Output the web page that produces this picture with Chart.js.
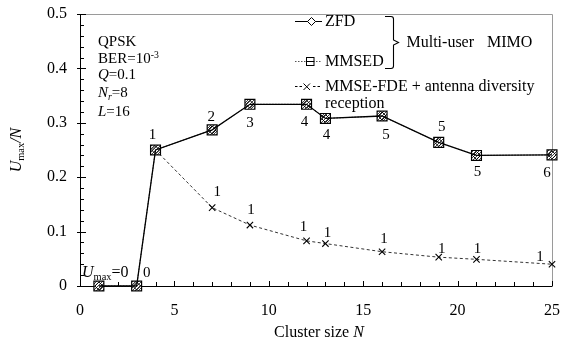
<!DOCTYPE html>
<html><head><meta charset="utf-8">
<script src="https://cdn.jsdelivr.net/npm/chart.js@4.4.0/dist/chart.umd.min.js"></script>
<style>html,body{margin:0;padding:0;background:#fff}#wrap{width:561px;height:344px}</style>
</head><body><div id="wrap"><canvas id="c" width="561" height="344"></canvas></div>
<script>
// ---- data ----
const clusterSizes = [1, 3, 4, 7, 9, 12, 13, 16, 19, 21, 25];
const zfdValues    = [0, 0, 0.250, 0.287, 0.334, 0.334, 0.308, 0.3125, 0.264, 0.240, 0.241];
const mmsedValues  = [0, 0, 0.250, 0.287, 0.334, 0.334, 0.308, 0.3125, 0.264, 0.240, 0.241];
const fdeSizes     = [4, 7, 9, 12, 13, 16, 19, 21, 25];
const fdeValues    = [0.250, 0.144, 0.112, 0.083, 0.078, 0.063, 0.053, 0.049, 0.040];
const zfdUsers     = ['', '0', '1', '2', '3', '4', '4', '5', '5', '5', '6'];
const fdeUsers     = ['', '1', '1', '1', '1', '1', '1', '1', '1'];
const xTickValues  = [0, 5, 10, 15, 20, 25];
const yTickValues  = [0, 0.1, 0.2, 0.3, 0.4, 0.5];

// ---- label placement (pixel offsets from the point) ----
const zfdLabelOffsets = [[0,0],[10,-13],[-3,-15],[-1,-13],[0,19],[-2,18],[1,17],[4,19],[3,-15],[1,17],[-5,18]];
const fdeLabelOffsets = [[0,0],[5,-16],[1,-15],[-3,-14],[2,-11],[2,-13],[3,-8],[1,-10],[-12,-7]];

const SERIF = '"Liberation Serif", "Times New Roman", serif';

function hatch() {
  const p = document.createElement('canvas');
  p.width = 3; p.height = 3;
  const g = p.getContext('2d');
  g.fillStyle = '#fff'; g.fillRect(0,0,3,3);
  g.strokeStyle = '#444'; g.lineWidth = 1;
  g.beginPath(); g.moveTo(0,3); g.lineTo(3,0); g.stroke();
  return g.createPattern(p, 'repeat');
}
const hatchFill = hatch();

function rich(ctx, x, y, segs, size, align) {
  const parts = segs.map(([t, s]) => {
    const small = s === 'sub' || s === 'subi' || s === 'sup';
    const fs = small ? size * 0.65 : size;
    const it = s === 'i' || s === 'subi';
    const font = (it ? 'italic ' : '') + fs + 'px ' + SERIF;
    ctx.font = font;
    return {t, font, w: ctx.measureText(t).width, dy: s === 'sub' || s === 'subi' ? size * 0.28 : (s === 'sup' ? -size * 0.3 : 0)};
  });
  const total = parts.reduce((a, p) => a + p.w, 0);
  let cx = align === 'center' ? x - total / 2 : x;
  ctx.textBaseline = 'middle'; ctx.textAlign = 'left'; ctx.fillStyle = '#000';
  for (const p of parts) { ctx.font = p.font; ctx.fillText(p.t, cx, y + p.dy); cx += p.w; }
}

const decor = {
  id: 'decor',
  beforeDatasetsDraw(chart) {
    const {ctx, chartArea: a, scales: {x, y}} = chart;
    ctx.save();
    ctx.lineWidth = 1;
    ctx.strokeStyle = '#9a9a9a';
    ctx.beginPath();
    ctx.moveTo(a.left, a.top + 0.5); ctx.lineTo(a.right + 0.5, a.top + 0.5); ctx.lineTo(a.right + 0.5, a.bottom);
    ctx.stroke();
    ctx.strokeStyle = '#000';
    ctx.beginPath();
    ctx.moveTo(a.left + 0.5, a.top); ctx.lineTo(a.left + 0.5, a.bottom + 0.5); ctx.lineTo(a.right + 0.5, a.bottom + 0.5);
    ctx.stroke();
    ctx.beginPath();
    for (let v = 0; v <= 25; v++) {
      const px = Math.round(x.getPixelForValue(v)) + 0.5;
      const len = v % 5 === 0 ? 5 : 4;
      ctx.moveTo(px, a.bottom); ctx.lineTo(px, a.bottom - len);
    }
    for (let k = 0; k <= 25; k++) {
      const v = k * 0.02;
      const py = Math.round(y.getPixelForValue(v)) + 0.5;
      const major = k % 5 === 0;
      ctx.moveTo(a.left - (major ? 3 : 0), py); ctx.lineTo(a.left + (major ? 6 : 4), py);
    }
    ctx.stroke();
    ctx.restore();
  },
  afterDraw(chart) {
    const {ctx, chartArea: a, scales: {x, y}} = chart;
    ctx.save();
    ctx.font = '15px ' + SERIF; ctx.textAlign = 'center'; ctx.textBaseline = 'middle'; ctx.fillStyle = '#000';
    clusterSizes.forEach((n, i) => {
      if (!zfdUsers[i]) return;
      const [dx, dy] = zfdLabelOffsets[i];
      ctx.fillText(zfdUsers[i], x.getPixelForValue(n) + dx, y.getPixelForValue(zfdValues[i]) + dy);
    });
    fdeSizes.forEach((n, i) => {
      if (!fdeUsers[i]) return;
      const [dx, dy] = fdeLabelOffsets[i];
      ctx.fillText(fdeUsers[i], x.getPixelForValue(n) + dx, y.getPixelForValue(fdeValues[i]) + dy);
    });
    rich(ctx, a.left + 2, 273, [['U','i'],['max','sub'],['=0','']], 16, 'left');
    const bx = 98, s = 15;
    rich(ctx, bx, 41.7, [['QPSK','']], s);
    rich(ctx, bx, 59.5, [['BER=10',''],['-3','sup']], s);
    rich(ctx, bx, 75.5, [['Q','i'],['=0.1','']], s);
    rich(ctx, bx, 93.3, [['N','i'],['r','subi'],['=8','']], s);
    rich(ctx, bx, 111.7, [['L','i'],['=16','']], s);
    rich(ctx, 319, 332.5, [['Cluster size ',''],['N','i']], 16, 'center');
    ctx.save();
    ctx.translate(17, a.top + (a.bottom - a.top) / 2);
    ctx.rotate(-Math.PI / 2);
    rich(ctx, 0, 0, [['U','i'],['max','sub'],['/','i'],['N','i']], 16, 'center');
    ctx.restore();
    // legend
    ctx.lineWidth = 1; ctx.strokeStyle = '#000';
    ctx.beginPath(); ctx.moveTo(295, 21.5); ctx.lineTo(322, 21.5); ctx.stroke();
    ctx.fillStyle = '#fff';
    ctx.beginPath(); ctx.moveTo(311.5, 17.5); ctx.lineTo(315.5, 21.5); ctx.lineTo(311.5, 25.5); ctx.lineTo(307.5, 21.5); ctx.closePath(); ctx.fill(); ctx.stroke();
    ctx.setLineDash([1.5, 1.5]); ctx.strokeStyle = '#555';
    ctx.beginPath(); ctx.moveTo(295, 61.5); ctx.lineTo(322, 61.5); ctx.stroke();
    ctx.setLineDash([]); ctx.strokeStyle = '#000';
    ctx.fillRect(306, 57.5, 8, 8); ctx.strokeRect(306.5, 57.5, 7.5, 8);
    ctx.beginPath(); ctx.moveTo(306.5, 61.5); ctx.lineTo(314, 61.5); ctx.stroke();
    ctx.setLineDash([2.5, 2]);
    ctx.beginPath(); ctx.moveTo(295, 86.5); ctx.lineTo(322, 86.5); ctx.stroke();
    ctx.setLineDash([]);
    ctx.fillStyle = '#fff'; ctx.fillRect(303, 83, 8, 8);
    ctx.beginPath(); ctx.moveTo(303.5, 83.5); ctx.lineTo(310, 90); ctx.moveTo(310, 83.5); ctx.lineTo(303.5, 90); ctx.stroke();
    // brace
    ctx.lineWidth = 1.1;
    ctx.beginPath();
    ctx.moveTo(385, 16.5); ctx.lineTo(391, 16.5); ctx.quadraticCurveTo(393.5, 16.5, 393.5, 19);
    ctx.lineTo(393.5, 40); ctx.lineTo(398.5, 42.5);
    ctx.lineTo(393.5, 45);
    ctx.lineTo(393.5, 66); ctx.quadraticCurveTo(393.5, 68.5, 391, 68.5); ctx.lineTo(385, 68.5);
    ctx.stroke();
    ctx.font = '16px ' + SERIF; ctx.fillStyle = '#000'; ctx.textAlign = 'left'; ctx.textBaseline = 'middle';
    ctx.fillText('ZFD', 325, 21.5);
    ctx.fillText('MMSED', 325, 61.5);
    ctx.fillText('Multi-user', 406.5, 43);
    ctx.fillText('MIMO', 487, 43);
    ctx.fillText('MMSE-FDE + antenna diversity', 325, 86.7);
    ctx.fillText('reception', 325, 103.3);
    ctx.restore();
  }
};

const tickFont = {family: SERIF, size: 16};
new Chart(document.getElementById('c'), {
  type: 'line',
  data: {
    datasets: [
      {label: 'ZFD', data: clusterSizes.map((n, i) => ({x: n, y: zfdValues[i]})),
       borderColor: '#000', borderWidth: 1.3, pointStyle: 'rectRot', pointRadius: 4,
       pointBackgroundColor: 'rgba(0,0,0,0)', pointBorderColor: '#000', pointBorderWidth: 1, tension: 0},
      {label: 'MMSED', data: clusterSizes.map((n, i) => ({x: n, y: mmsedValues[i]})),
       borderColor: '#444', borderWidth: 1, borderDash: [1.5, 1.5], pointStyle: 'rect', pointRadius: 7,
       pointBackgroundColor: hatchFill, pointBorderColor: '#000', pointBorderWidth: 1.2, tension: 0},
      {label: 'MMSE-FDE + antenna diversity reception', data: fdeSizes.map((n, i) => ({x: n, y: fdeValues[i]})),
       borderColor: '#333', borderWidth: 1, borderDash: [3, 2.5], pointStyle: 'crossRot', pointRadius: 4.5,
       pointBorderColor: '#000', pointBorderWidth: 1.1, tension: 0}
    ]
  },
  options: {
    responsive: false, animation: false, clip: false,
    layout: {padding: {left: 0, right: 9, top: 14, bottom: 0}},
    plugins: {legend: {display: false}, tooltip: {enabled: false}},
    scales: {
      x: {type: 'linear', min: 0, max: 25,
          afterBuildTicks(s) { s.ticks = xTickValues.map(v => ({value: v})); },
          ticks: {color: '#000', font: tickFont, padding: 15, maxRotation: 0, autoSkip: false},
          grid: {display: false, drawTicks: false}, border: {display: false},
          afterFit(s) { s.height = 58; s.paddingLeft = 0; s.paddingRight = 0; }},
      y: {type: 'linear', min: 0, max: 0.5,
          afterBuildTicks(s) { s.ticks = yTickValues.map(v => ({value: v})); },
          ticks: {color: '#000', font: tickFont, padding: 13, autoSkip: false},
          grid: {display: false, drawTicks: false}, border: {display: false},
          afterFit(s) { s.width = 80; s.paddingTop = 0; s.paddingBottom = 0; }}
    }
  },
  plugins: [decor]
});
</script>
</body></html>
